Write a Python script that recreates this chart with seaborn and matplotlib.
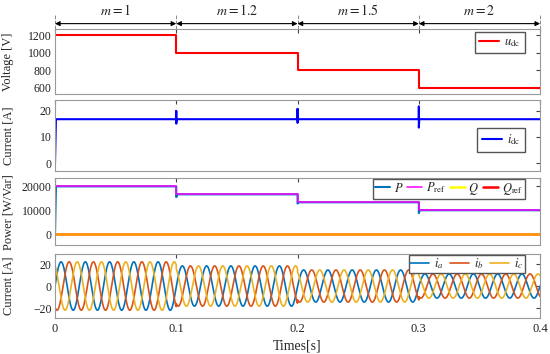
import numpy as np
import pandas as pd
import matplotlib
matplotlib.use('Agg')
import matplotlib.pyplot as plt
import seaborn as sns

sns.set_style('white')
plt.rcParams['font.family'] = ['Liberation Serif', 'DejaVu Serif']
plt.rcParams['mathtext.fontset'] = 'stix'

# data
seg_edges = [0.0, 0.1, 0.2, 0.3, 0.4]
seg_labels = ['$m=1$', '$m=1.2$', '$m=1.5$', '$m=2$']
udc_levels = [1200, 1000, 800, 600]
p_ref_levels = [20000, 16667, 13333, 10000]
idc_level = 16.7
idc_spike_hi = [19.8, 20.6, 21.5]
idc_spike_lo = [15.0, 15.3, 13.5]
p_dips = [15500, 12800, 8800]
i_amp = [22.0, 18.3, 14.6, 11.0]
grid_freq = 50.0

# step series
udc_t = seg_edges
udc_v = udc_levels + [udc_levels[-1]]
pref_v = p_ref_levels + [p_ref_levels[-1]]

idc_t, idc_v = [0.0, 0.0008], [0.0, idc_level]
p_t, p_v = [0.0, 0.0008], [0.0, p_ref_levels[0]]
for k, tb in enumerate(seg_edges[1:4]):
    idc_t += [tb, tb, tb, tb + 0.0004]
    idc_v += [idc_level, idc_spike_hi[k], idc_spike_lo[k], idc_level]
    p_t += [tb, tb, tb + 0.0008]
    p_v += [p_ref_levels[k], p_dips[k], p_ref_levels[k + 1]]
idc_t.append(0.4)
idc_v.append(idc_level)
p_t.append(0.4)
p_v.append(p_ref_levels[-1])

# three-phase currents, amplitude per segment
t = np.linspace(0, 0.4, 4001)
amp = np.array(i_amp)[np.clip((t / 0.1).astype(int), 0, 3)]
w = 2 * np.pi * grid_freq
phase = pd.DataFrame({'t': t,
                      'ia': amp * np.sin(w * t),
                      'ib': amp * np.sin(w * t - 2 * np.pi / 3),
                      'ic': amp * np.sin(w * t + 2 * np.pi / 3)})

fig = plt.figure(figsize=(5.5, 3.54), dpi=100)
left, width = 0.1, 0.882
ax1 = fig.add_axes([left, 0.7333, width, 0.185])
ax2 = fig.add_axes([left, 0.5178, width, 0.1989])
ax3 = fig.add_axes([left, 0.3068, width, 0.189])
ax4 = fig.add_axes([left, 0.1028, width, 0.179])

sns.lineplot(x=udc_t, y=udc_v, ax=ax1, color='#ff0000', lw=1.5,
             drawstyle='steps-post', label='$u_{\\mathrm{dc}}$')
sns.lineplot(x=idc_t, y=idc_v, ax=ax2, color='#0000ff', lw=1.5, sort=False,
             estimator=None, label='$i_{\\mathrm{dc}}$')
sns.lineplot(x=p_t, y=p_v, ax=ax3, color='#0072bd', lw=1.5, sort=False,
             estimator=None, label='$P$')
sns.lineplot(x=udc_t, y=pref_v, ax=ax3, color='#ff00ff', lw=1.1,
             drawstyle='steps-post', label='$P_{\\mathrm{ref}}$')
qref_line = ax3.plot([0, 0.4], [0, 0], color='#ff0000', lw=1.8)[0]
q_line = ax3.plot([0, 0.4], [0, 0], color='#ffff00', lw=1.8, alpha=0.6)[0]

sns.lineplot(data=phase, x='t', y='ia', ax=ax4, color='#0072bd', lw=1.2, label='$i_a$')
sns.lineplot(data=phase, x='t', y='ib', ax=ax4, color='#d95319', lw=1.2, label='$i_b$')
sns.lineplot(data=phase, x='t', y='ic', ax=ax4, color='#edb120', lw=1.2, label='$i_c$')

ax1.set_ylim(527, 1272)
ax1.set_yticks([600, 800, 1000, 1200])
ax2.set_ylim(-2.9, 23.9)
ax2.set_yticks([0, 10, 20])
ax3.set_ylim(-4700, 23300)
ax3.set_yticks([0, 10000, 20000])
ax4.set_ylim(-28.7, 28.9)
ax4.set_yticks([-20, 0, 20])

ylabels = ['Voltage [V]', 'Current [A]', 'Power [W/Var]', 'Current [A]']
for ax, yl in zip([ax1, ax2, ax3, ax4], ylabels):
    ax.set_xlim(0, 0.4)
    ax.set_xticks([0, 0.1, 0.2, 0.3, 0.4])
    ax.set_ylabel(yl, fontsize=9)
    ax.set_xlabel('')
    ax.yaxis.set_label_coords(-0.0845, 0.5)
    ax.tick_params(direction='in', length=3, top=True, right=True,
                   colors='#444444', labelcolor='#222222', pad=2.5)
    ax.tick_params(axis='y', labelsize=8.5)
    ax.tick_params(axis='x', labelsize=9, pad=4)
    for s in ax.spines.values():
        s.set_color('#999999')
        s.set_linewidth(0.8)
    if ax is not ax4:
        ax.set_xticklabels([])

ax4.set_xticklabels(['0', '0.1', '0.2', '0.3', '0.4'])
ax4.set_xlabel('Times[s]', fontsize=10, labelpad=3)

leg_kw = dict(fontsize=9, fancybox=False, edgecolor='#555555', framealpha=1,
              handlelength=1.6, handletextpad=0.4, borderpad=0.35,
              labelspacing=0.2, borderaxespad=0)
ax1.legend(loc='upper right', bbox_to_anchor=(0.968, 0.955), **leg_kw)
ax2.legend(loc='center right', bbox_to_anchor=(0.968, 0.436), **leg_kw)
h, l = ax3.get_legend_handles_labels()
h += [q_line, qref_line]
l += ['$Q$', '$Q_{\\mathrm{ref}}$']
q_line.set_alpha(None)
ax3.legend(h, l, loc='upper right', bbox_to_anchor=(0.968, 0.995), ncol=4,
           columnspacing=0.3, handletextpad=0.3, handlelength=1.2,
           fontsize=9, fancybox=False, edgecolor='#555555', framealpha=1,
           borderpad=0.15, borderaxespad=0)
q_line.set_alpha(0.6)
ax4.legend(loc='upper right', bbox_to_anchor=(0.968, 0.995), ncol=3,
           columnspacing=0.5, handletextpad=0.4, handlelength=1.5,
           fontsize=9, fancybox=False, edgecolor='#555555', framealpha=1,
           borderpad=0.15, borderaxespad=0)

# mode annotations above the top panel
trans = ax1.get_xaxis_transform()
for k in range(4):
    ax1.annotate('', xy=(seg_edges[k], 1.081), xytext=(seg_edges[k + 1], 1.081),
                 xycoords=trans, textcoords=trans,
                 arrowprops=dict(arrowstyle='<|-|>', color='black', lw=0.8,
                                 shrinkA=0, shrinkB=0, mutation_scale=7))
    ax1.text((seg_edges[k] + seg_edges[k + 1]) / 2, 1.28, seg_labels[k],
             transform=trans, ha='center', va='center', fontsize=10)
for tb in seg_edges:
    ax1.plot([tb, tb], [1.0, 1.21], transform=trans, color='#888888', lw=0.7,
             ls='--', clip_on=False)

fig.savefig('out.png', dpi=100)
